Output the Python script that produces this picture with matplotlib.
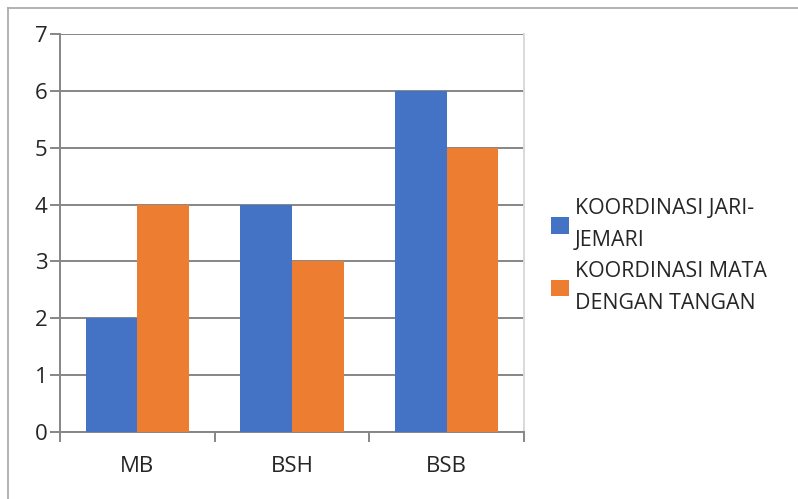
import matplotlib.pyplot as plt
from matplotlib.lines import Line2D

categories = ['MB', 'BSH', 'BSB']
jari_jemari = [2, 4, 6]
mata_tangan = [4, 3, 5]
series_labels = ['KOORDINASI JARI-\nJEMARI', 'KOORDINASI MATA\nDENGAN TANGAN']
y_ticks = [0, 1, 2, 3, 4, 5, 6, 7]

BLUE = '#4472C4'
ORANGE = '#ED7D31'
GRID = '#868686'

plt.rcParams['font.family'] = ['Open Sans', 'DejaVu Sans']

fig = plt.figure(figsize=(7.98, 4.99), dpi=100)
ax = fig.add_axes([60 / 798, 67 / 499, 464 / 798, 398 / 499])

x = list(range(len(categories)))
w = 1 / 3
ax.bar([i - w / 2 for i in x], jari_jemari, width=w, color=BLUE, label=series_labels[0], zorder=3)
ax.bar([i + w / 2 for i in x], mata_tangan, width=w, color=ORANGE, label=series_labels[1], zorder=3)

ax.set_xlim(-0.5, len(categories) - 0.5)
ax.set_ylim(0, 7)
ax.set_yticks(y_ticks)
ax.yaxis.grid(True, color=GRID, linewidth=1.4, zorder=0)

ax.set_xticks(x)
ax.set_xticklabels(categories)
ax.set_xticks([i - 0.5 for i in range(len(categories) + 1)], minor=True)
ax.tick_params(axis='x', which='major', length=0, pad=17, labelsize=16, colors='#262626')
ax.tick_params(axis='x', which='minor', length=7, width=1.4, color=GRID)
ax.tick_params(axis='y', length=7, width=1.4, color=GRID, pad=2, labelsize=16, labelcolor='#262626')

for s in ['left', 'bottom']:
    ax.spines[s].set_color(GRID)
    ax.spines[s].set_linewidth(1.4)
ax.spines['top'].set_visible(False)
ax.spines['right'].set_color('#d9d9d9')
ax.spines['right'].set_linewidth(1.4)

leg = fig.legend(loc='center left', bbox_to_anchor=(551 / 798, 1 - 256 / 499), frameon=False,
                 fontsize=15.4, handlelength=0.84, handleheight=0.84, handletextpad=0.28,
                 labelspacing=0.45, borderpad=0, borderaxespad=0, labelcolor='#262626')
for t in leg.get_texts():
    t.set_linespacing(1.7)

# outer frame of the chart area
fig.add_artist(Line2D([8 / 798, 8 / 798], [0, 1 - 8 / 499], transform=fig.transFigure, color='#a6a6a6', lw=1.2))
fig.add_artist(Line2D([8 / 798, 1], [1 - 8 / 499, 1 - 8 / 499], transform=fig.transFigure, color='#a6a6a6', lw=1.2))

fig.savefig('out.png', dpi=100)
